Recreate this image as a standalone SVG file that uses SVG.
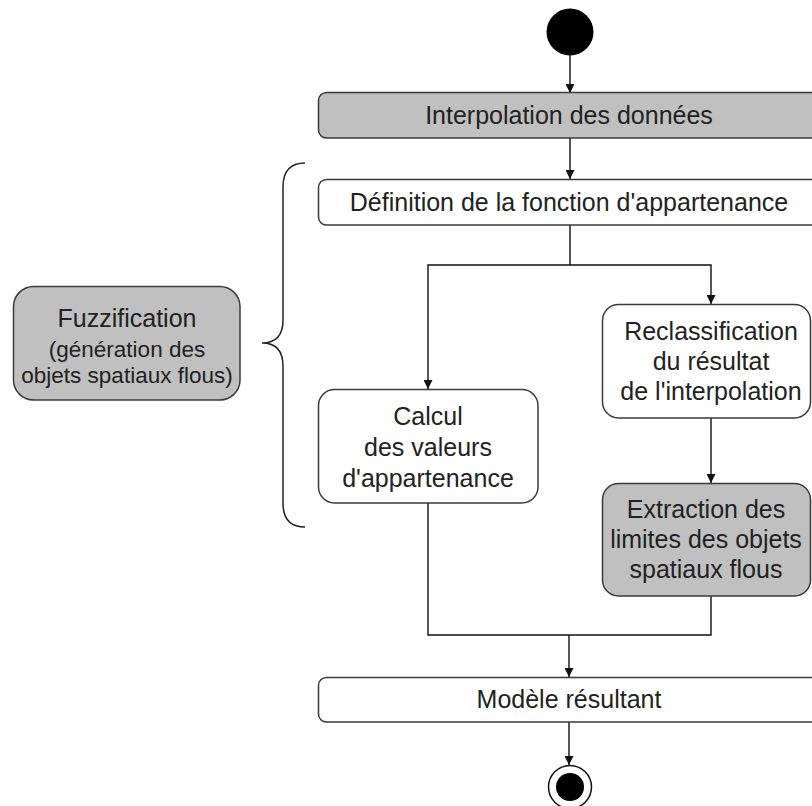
<svg xmlns="http://www.w3.org/2000/svg" width="812" height="806" viewBox="0 0 812 806">
<defs>
<marker id="arr" viewBox="0 0 10 10" refX="10" refY="5" markerWidth="9" markerHeight="9" markerUnits="userSpaceOnUse" orient="auto">
<path d="M0,0 L10,5 L0,10 Z" fill="#111"/>
</marker>
<style>
.box{fill:#ffffff;stroke:#3a3a3a;stroke-width:1.5}
.grey{fill:#c0c0c0;stroke:#3a3a3a;stroke-width:1.5}
.t{font-family:"Liberation Sans",Arial,sans-serif;font-size:25px;fill:#222;text-anchor:middle}
.s{font-family:"Liberation Sans",Arial,sans-serif;font-size:22.5px;fill:#222;text-anchor:middle}
.c{fill:none;stroke:#111;stroke-width:1.4}
</style>
</defs>
<rect width="812" height="806" fill="#ffffff"/>
<g id="connectors">
<path class="c" d="M570,55 V93" marker-end="url(#arr)"/>
<path class="c" d="M570,138 V179" marker-end="url(#arr)"/>
<path class="c" d="M570,225 V265"/>
<path class="c" d="M570,265 H428 V389" marker-end="url(#arr)"/>
<path class="c" d="M570,265 H711 V304" marker-end="url(#arr)"/>
<path class="c" d="M711,418 V483" marker-end="url(#arr)"/>
<path class="c" d="M428,503 V635 H711 V596"/>
<path class="c" d="M569,635 V677" marker-end="url(#arr)"/>
<path class="c" d="M569,722 V765" marker-end="url(#arr)"/>
<path d="M305,163 Q283,163 283,187 V320 Q283,343 262,343 Q283,343 283,366 V503 Q283,527 305,527" fill="none" stroke="#222" stroke-width="1.5"/>
</g>
<g id="start"><circle cx="570" cy="32" r="23.5" fill="#000"/></g>
<g id="interpolation">
<rect class="grey" x="318.5" y="92.5" width="520" height="45.5" rx="8"/>
<text class="t" x="569" y="124">Interpolation des données</text>
</g>
<g id="definition">
<rect class="box" x="318.5" y="179.5" width="520" height="45.5" rx="8"/>
<text class="t" x="569" y="211">Définition de la fonction d'appartenance</text>
</g>
<g id="fuzzification">
<rect class="grey" x="13.5" y="286.5" width="226.5" height="113.5" rx="20"/>
<text class="t" x="127" y="327">Fuzzification</text>
<text class="s" x="127" y="357">(génération des</text>
<text class="s" x="127" y="383">objets spatiaux flous)</text>
</g>
<g id="calcul">
<rect class="box" x="318.5" y="389.5" width="219.5" height="113.5" rx="16"/>
<text class="t" x="428" y="425">Calcul</text>
<text class="t" x="428" y="456">des valeurs</text>
<text class="t" x="428" y="487">d'appartenance</text>
</g>
<g id="reclassification">
<rect class="box" x="602.5" y="304.5" width="208" height="113.5" rx="16"/>
<text class="t" x="711" y="340">Reclassification</text>
<text class="t" x="711" y="370">du résultat</text>
<text class="t" x="711" y="400">de l'interpolation</text>
</g>
<g id="extraction">
<rect class="grey" x="602.5" y="483.5" width="208" height="112.5" rx="16"/>
<text class="t" x="706" y="518">Extraction des</text>
<text class="t" x="706" y="548">limites des objets</text>
<text class="t" x="706" y="578">spatiaux flous</text>
</g>
<g id="modele">
<rect class="box" x="318.5" y="677.5" width="520" height="44.5" rx="8"/>
<text class="t" x="569" y="708">Modèle résultant</text>
</g>
<g id="end">
<circle cx="570" cy="787" r="21.5" fill="#fff" stroke="#111" stroke-width="1.5"/>
<circle cx="570" cy="787" r="14" fill="#000"/>
</g>
</svg>
